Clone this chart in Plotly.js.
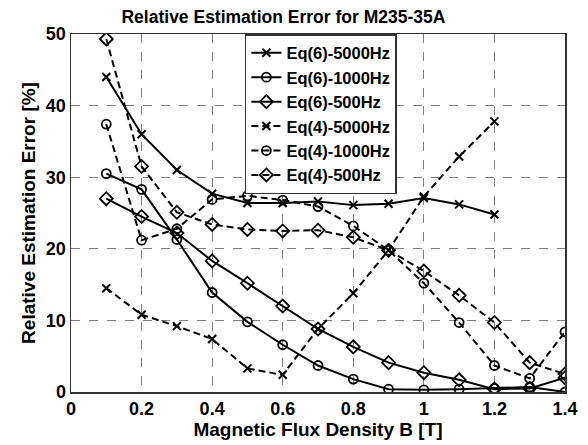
<!DOCTYPE html>
<html><head><meta charset="utf-8">
<script src="https://cdn.plot.ly/plotly-3.0.1.min.js"></script>
<style>html,body{margin:0;padding:0;background:#fff}#c{width:588px;height:445px}</style>
</head><body><div id="c"></div>
<script>
var B = [0.1,0.2,0.3,0.4,0.5,0.6,0.7,0.8,0.9,1.0,1.1,1.2,1.3,1.4];
var B12 = [0.1,0.2,0.3,0.4,0.5,0.6,0.7,0.8,0.9,1.0,1.1,1.2];
var eq6_5000 = [44,36,31,27.7,26.4,26.4,26.6,26.1,26.3,27.1,26.2,24.8];
var eq6_1000 = [30.5,28.3,21.3,13.9,9.8,6.6,3.7,1.8,0.4,0.3,0.4,0.5,0.7,0.0];
var eq6_500 = [27,24.5,22.2,18.3,15.2,12,8.8,6.3,4.1,2.7,1.7,0.4,0.5,2.0];
var eq4_5000 = [14.5,10.8,9.2,7.4,3.3,2.4,8.8,13.8,19.8,27.3,32.9,37.8];
var eq4_1000 = [37.4,21.2,22.8,26.9,27.4,26.8,25.9,23.2,19.8,15.2,9.7,3.7,1.9,8.4];
var eq4_500 = [49.3,31.5,25.1,23.4,22.7,22.5,22.6,21.6,19.8,16.9,13.5,9.7,4.1,2.5];
var names = ['Eq(6)-5000Hz','Eq(6)-1000Hz','Eq(6)-500Hz','Eq(4)-5000Hz','Eq(4)-1000Hz','Eq(4)-500Hz'];
var xTicks = [0,0.2,0.4,0.6,0.8,1,1.2,1.4];
var xTickText = ['0','0.2','0.4','0.6','0.8','1','1.2','1.4'];
var yTicks = [0,10,20,30,40,50];

function tr(x, y, name, sym, dash){
  var isX = sym.indexOf('x')===0;
  return {x:x, y:y, name:name, type:'scatter', mode:'lines+markers',
    line:{color:'#000', width:2, dash:dash},
    marker:{symbol:sym, size: isX?8:(sym.indexOf('diamond')===0?10:9), color:'#000', line:{color:'#000', width: isX?2:1.8}}};
}
var dashS = '7px,4px';
var data = [
  tr(B12, eq6_5000, names[0], 'x-thin-open', 'solid'),
  tr(B, eq6_1000, names[1], 'circle-open', 'solid'),
  tr(B, eq6_500, names[2], 'diamond-open', 'solid'),
  tr(B12, eq4_5000, names[3], 'x-thin-open', dashS),
  tr(B, eq4_1000, names[4], 'circle-open', dashS),
  tr(B, eq4_500, names[5], 'diamond-open', dashS)
];
var f = 'Liberation Sans, Arial, sans-serif';
var layout = {
  width:588, height:445,
  margin:{l:71, r:23, t:34, b:53},
  paper_bgcolor:'#fff', plot_bgcolor:'#fff',
  font:{family:f, color:'#000'},
  title:{text:'<b>Relative Estimation Error for M235-35A</b>', font:{size:17.5, family:f, color:'#000'}, x:0.482, xanchor:'center', y:0.962, yanchor:'middle'},
  xaxis:{range:[0,1.4], tickvals:xTicks, ticktext:xTickText, tickfont:{size:18, family:f, color:'#000', weight:'bold'},
    showgrid:true, gridcolor:'#808080', griddash:'dash', gridwidth:1, zeroline:false,
    showline:true, linecolor:'#333', linewidth:1.5, mirror:true, ticks:'', ticklen:0,
    title:{text:'<b>Magnetic Flux Density B [T]</b>', font:{size:19, family:f, color:'#000'}, standoff:2}},
  yaxis:{range:[0,50], tickvals:yTicks, tickfont:{size:18, family:f, color:'#000', weight:'bold'},
    showgrid:true, gridcolor:'#808080', griddash:'dash', gridwidth:1, zeroline:false,
    showline:true, linecolor:'#333', linewidth:1.5, mirror:true, ticks:'', ticklen:0,
    title:{text:'<b>Relative Estimation Error [%]</b>', font:{size:19, family:f, color:'#000'}, standoff:5}},
  legend:{x:0.352, y:1, xanchor:'left', yanchor:'top', bgcolor:'#fff', bordercolor:'#333', borderwidth:1.5,
    font:{size:16.5, family:f, color:'#000', weight:'bold'}, tracegroupgap:0, itemwidth:30},
  showlegend:true
};
Plotly.newPlot('c', data, layout, {staticPlot:true, displayModeBar:false});
</script></body></html>
